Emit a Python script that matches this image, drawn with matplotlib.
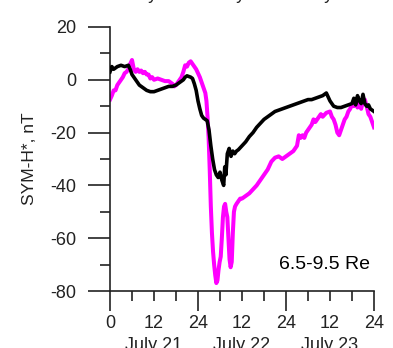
import matplotlib
matplotlib.use("Agg")
import matplotlib.pyplot as plt
from matplotlib.ticker import FixedLocator

plt.rcParams['font.family'] = ['Liberation Sans', 'DejaVu Sans']
plt.rcParams['axes.unicode_minus'] = False

# Hours since 00 UT July 21
black_t = [0, 0.5, 1, 2, 3, 4, 5, 5.5, 6, 7, 8, 9, 10, 11, 12, 13, 14, 15, 16, 17, 18, 19, 20,
           20.5, 21, 22, 22.5, 23, 23.5, 24, 24.5, 25, 25.5, 26, 26.5, 27, 27.5, 28, 28.5, 29,
           29.5, 30, 30.5, 31, 31.3, 31.6, 32, 32.5, 33, 33.5, 34, 34.5, 35, 36, 37, 38, 39, 40,
           41, 42, 43, 44, 45, 46, 47, 48, 49, 50, 51, 52, 53, 54, 55, 56, 57, 58, 59, 59.5, 60,
           61, 62, 63, 64, 65, 66, 66.5, 67, 67.5, 68, 68.5, 69, 69.5, 70, 70.5, 71, 72]
black_v = [3, 5, 4, 5, 5.5, 5, 5.5, 4, 2, 0, -2, -3, -4, -4.5, -4.5, -4, -3.5, -3, -2.5, -2.5, -2,
           -1, 0, 1, 1.5, 1, 0.5, -1.5, -4, -8, -11, -13.5, -14.5, -15, -15.5, -19, -25, -30, -34,
           -36, -37, -35, -38, -40, -33, -36, -28, -26, -29, -27, -28, -27, -26.5, -25, -23.5,
           -21.5, -20, -18, -16.5, -15, -14, -13, -12, -11.5, -11, -10.5, -10, -9.5, -9, -8.5, -8,
           -7.5, -7.5, -7, -6.5, -6, -5, -6.5, -8, -10, -10.5, -10.5, -10, -9.5, -9, -7, -9.5, -6,
           -8, -9, -5.5, -9, -10, -9.5, -11, -12]

mag_t = [0, 0.5, 1, 1.5, 2, 2.5, 3, 3.5, 4, 4.5, 5, 5.5, 6, 6.5, 7, 7.5, 8, 8.5, 9, 9.5, 10, 10.5,
         11, 11.5, 12, 13, 14, 15, 16, 16.5, 17, 17.5, 18, 18.5, 19, 19.5, 20, 20.5, 21, 21.5, 22,
         22.5, 23, 23.5, 24, 24.5, 25, 25.5, 26, 26.3, 26.6, 26.9, 27.2, 27.5, 27.8, 28.1, 28.4,
         28.7, 29, 29.3, 29.6, 29.9, 30.2, 30.5, 30.8, 31.1, 31.4, 31.7, 32, 32.3, 32.6, 32.9,
         33.2, 33.5, 33.8, 34.1, 34.5, 35, 35.5, 36, 37, 38, 39, 40, 41, 42, 43, 44, 45, 46, 47,
         48, 49, 50, 51, 51.5, 52, 52.5, 53, 53.5, 54, 55, 55.5, 56, 57, 57.5, 58, 59, 60, 60.5,
         61, 61.5, 62, 62.5, 63, 63.5, 64, 64.5, 65, 65.5, 66, 66.5, 67, 67.5, 68, 68.5, 69, 69.5,
         70, 70.5, 71, 71.5, 72]
mag_v = [-7.5, -6, -4, -4, -2, -1, 0, 1, 2.5, 3, 4, 6, 7.5, 4, 3, 4, 3, 3.5, 2.5, 3, 2, 2, 0.5, 1,
         0, 0.5, 0, -0.5, -0.5, -1, -1.5, -2.5, -2, -1, 0, 1, 3, 5.5, 5, 6.5, 7, 6, 5, 4, 2.5, 1,
         -1, -3, -5, -8, -14, -22, -34, -48, -58, -65, -70, -74, -77, -76, -72, -69, -67, -60, -52,
         -48, -47, -50, -52, -60, -68, -71, -69, -58, -50, -48, -47, -46, -45, -45, -44, -43,
         -41.5, -40, -38, -36, -34, -31, -29.5, -29, -30, -29, -28, -27, -25, -21, -22, -21, -22,
         -20, -19, -17, -15, -16, -14, -13, -14, -12.5, -12, -14, -15, -17, -20, -21, -19, -17,
         -15, -14, -12, -11, -9.5, -10, -8, -10.5, -9, -11, -8, -7.5, -10, -13, -14, -16, -18]

xtick_major = [0, 24, 48, 72]
xtick_major_labels = ['0', '24', '24', '24']
xtick_minor = [6, 12, 18, 30, 36, 42, 54, 60, 66]
xtick_minor_labels = ['', '12', '', '', '12', '', '', '12', '']
ytick_major = [20, 0, -20, -40, -60, -80]
ytick_minor = [10, -10, -30, -50, -70]
day_labels = ['July 21', 'July 22', 'July 23']
day_centers = [12, 36, 60]
region_label = '6.5-9.5 Re'

fig = plt.figure(figsize=(3.93, 3.48), dpi=100)
ax = fig.add_axes([110/393, 1 - 291/348, 264/393, 264/348])

ax.plot(black_t, black_v, color='black', lw=2.6, solid_joinstyle='round', zorder=3)
ax.plot(mag_t, mag_v, color='#ff00ff', lw=2.9, solid_joinstyle='round', zorder=2)

ax.set_xlim(0, 72)
ax.set_ylim(-80, 20)
for s in ['top', 'right']:
    ax.spines[s].set_visible(False)
for s in ['left', 'bottom']:
    ax.spines[s].set_color('#222222')
    ax.spines[s].set_linewidth(1.2)

ax.set_xticks(xtick_major)
ax.set_xticklabels(xtick_major_labels)
ax.xaxis.set_minor_locator(FixedLocator(xtick_minor))
ax.set_xticklabels(xtick_minor_labels, minor=True)
ax.set_yticks(ytick_major)
ax.set_yticklabels([str(v) for v in ytick_major])
ax.yaxis.set_minor_locator(FixedLocator(ytick_minor))

fs = 13
ax.tick_params(axis='x', which='major', direction='out', length=14.5, width=1.2,
               color='#222222', labelsize=fs, labelcolor='#222222', pad=3)
ax.tick_params(axis='x', which='minor', direction='out', length=7, width=1.2,
               color='#222222', labelsize=fs, labelcolor='#222222', pad=10.5)
ax.tick_params(axis='y', which='major', direction='out', length=16, width=1.2,
               color='#222222', labelsize=fs, labelcolor='#222222', pad=8)
ax.tick_params(axis='y', which='minor', direction='out', length=7.5, width=1.2,
               color='#222222')

ax.set_ylabel('SYM-H*, nT', fontsize=12.5, color='#222222')
ax.yaxis.set_label_coords(-(110 - 37) / 264, 0.5)

ax.text(0.985, 0.1, region_label, transform=ax.transAxes, ha='right', va='center',
        fontsize=14, color='black')

for c, lab in zip(day_centers, day_labels):
    xf = (110 + c * 264 / 72) / 393
    fig.text(xf, 1 + 1 / 348, lab, ha='center', va='baseline', fontsize=fs, color='#222222')
    fig.text(xf, 1 - 337 / 348, lab, ha='center', va='top', fontsize=fs, color='#222222')

fig.savefig('out.png', dpi=100)
